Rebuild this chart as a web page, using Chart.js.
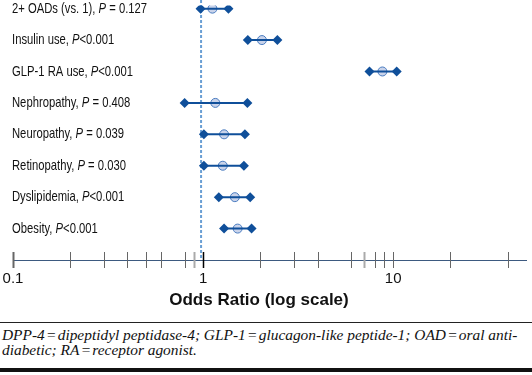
<!DOCTYPE html>
<html>
<head>
<meta charset="utf-8">
<script src="https://cdn.jsdelivr.net/npm/chart.js@4.4.1/dist/chart.umd.min.js"></script>
<style>
  body { margin: 0; background: #fff; width: 532px; }
  #wrap { position: relative; width: 532px; height: 314px; }
  .rule-top { border-top: 1.5px solid #222; margin: 8px 0 0 0; }
  .note {
    font-family: "Liberation Serif", serif; font-style: italic;
    font-size: 15.4px; line-height: 15px; color: #111;
    padding: 4px 0 0 2px; height: 41px;
  }
  .rule-bottom { border-top: 4px solid #111; }
</style>
</head>
<body>
<div id="wrap"><canvas id="chart"></canvas></div>
<div class="rule-top"></div>
<div class="note">DPP-4&#8202;=&#8202;dipeptidyl peptidase-4; GLP-1&#8202;=&#8202;glucagon-like peptide-1; OAD&#8202;=&#8202;oral anti-<br>diabetic; RA&#8202;=&#8202;receptor agonist.</div>
<div class="rule-bottom"></div>
<script>
// row labels: [name, p-value text]
const labels = ['2+ OADs (vs. 1), ', 'Insulin use, ', 'GLP-1 RA use, ', 'Nephropathy, ', 'Neuropathy, ', 'Retinopathy, ', 'Dyslipidemia, ', 'Obesity, '];
const pValues = [' = 0.127', '<0.001', '<0.001', ' = 0.408', ' = 0.039', ' = 0.030', '<0.001', '<0.001'];

// odds ratio with 95% CI
const oddsRatio = [1.12, 2.04, 8.78, 1.16, 1.29, 1.27, 1.47, 1.52];
const ciLow = [0.97, 1.72, 7.51, 0.80, 1.01, 1.01, 1.21, 1.29];
const ciHigh = [1.36, 2.46, 10.44, 1.71, 1.66, 1.64, 1.77, 1.80];

// x axis
const tickValues = [0.1, 0.2, 0.3, 0.4, 0.5, 0.6, 0.8, 0.9, 1, 2, 3, 4, 6, 7, 8, 9, 10, 20, 40];
const tickLabels = [0.1, 1, 10];
const axisTitle = 'Odds Ratio (log scale)';

const dark = '#0f4f9a';
const sans = '"Liberation Sans", Arial, sans-serif';
const datasets = [];
labels.forEach((l, i) => {
    datasets.push({
        type: 'line',
        data: [{ x: ciLow[i], y: i }, { x: ciHigh[i], y: i }],
        borderColor: dark,
        borderWidth: 2,
        pointStyle: 'rectRot',
        pointRadius: 5,
        pointBackgroundColor: dark,
        pointBorderColor: dark,
        pointBorderWidth: 0
    });
});
datasets.push({
    type: 'scatter',
    data: oddsRatio.map((v, i) => ({ x: v, y: i })),
    pointStyle: 'circle',
    pointRadius: 4.5,
    pointBackgroundColor: '#c9d3ea',
    pointBorderColor: '#4a7cc0',
    pointBorderWidth: 1
});

// labels on the left, dotted reference line at 1, tick marks across the axis
const extras = {
    id: 'extras',
    beforeDatasetsDraw(chart) {
        const ctx = chart.ctx;
        const xs = chart.scales.x, ys = chart.scales.y;
        const x1 = xs.getPixelForValue(1) - 2;
        ctx.save();
        ctx.strokeStyle = '#6a9fd4';
        ctx.lineWidth = 2;
        ctx.setLineDash([3, 2]);
        ctx.beginPath();
        ctx.moveTo(x1, 0);
        ctx.lineTo(x1, ys.bottom - 2);
        ctx.stroke();
        ctx.restore();
    },
    afterDraw(chart) {
        const ctx = chart.ctx;
        const xs = chart.scales.x, ys = chart.scales.y;
        ctx.save();
        ctx.textBaseline = 'middle';
        ctx.fillStyle = '#111';
        // condensed row labels
        const sx = 0.75;
        labels.forEach((l, i) => {
            const y = ys.getPixelForValue(i);
            ctx.save();
            ctx.translate(12, y);
            ctx.scale(sx, 1);
            let x = 0;
            ctx.font = '15px ' + sans;
            ctx.fillText(l, x, 0);
            x += ctx.measureText(l).width;
            ctx.font = 'italic 15px ' + sans;
            ctx.fillText('P', x, 0);
            x += ctx.measureText('P').width;
            ctx.font = '15px ' + sans;
            ctx.fillText(pValues[i], x, 0);
            ctx.restore();
        });
        const yAxis = ys.bottom;
        // tick labels and axis title
        ctx.textAlign = 'center';
        ctx.font = '15px ' + sans;
        tickLabels.forEach(v => ctx.fillText(String(v), xs.getPixelForValue(v), yAxis + 19));
        ctx.font = 'bold 17px ' + sans;
        ctx.fillText(axisTitle, 259, yAxis + 40);
        // tick marks crossing the axis line
        tickValues.forEach(v => {
            const px = Math.round(xs.getPixelForValue(v)) + 0.5;
            let col = '#666', w = 1;
            if (v === 0.9 || v === 7) { col = '#aaa'; w = 2; }
            if (v === 0.1) { col = '#666'; w = 2; }
            if (v === 1) { col = '#000'; w = 1.5; }
            ctx.strokeStyle = col;
            ctx.lineWidth = w;
            ctx.beginPath();
            ctx.moveTo(px, yAxis - 8);
            ctx.lineTo(px, yAxis + 8);
            ctx.stroke();
        });
        ctx.restore();
    }
};

new Chart(document.getElementById('chart'), {
    data: { datasets: datasets },
    options: {
        responsive: true,
        maintainAspectRatio: false,
        animation: false,
        layout: { padding: { left: 13, right: 6, top: 0, bottom: 54 } },
        plugins: { legend: { display: false }, tooltip: { enabled: false } },
        scales: {
            x: {
                type: 'logarithmic',
                min: 0.1,
                max: 50,
                afterBuildTicks: axis => { axis.ticks = tickValues.map(v => ({ value: v })); },
                grid: { display: false, drawTicks: false },
                border: { display: true, color: '#3d5a80', width: 1 },
                ticks: { display: false },
                title: { display: false }
            },
            y: {
                type: 'linear',
                reverse: true,
                min: -0.1,
                max: 8,
                display: false
            }
        }
    },
    plugins: [extras]
});
</script>
</body>
</html>
